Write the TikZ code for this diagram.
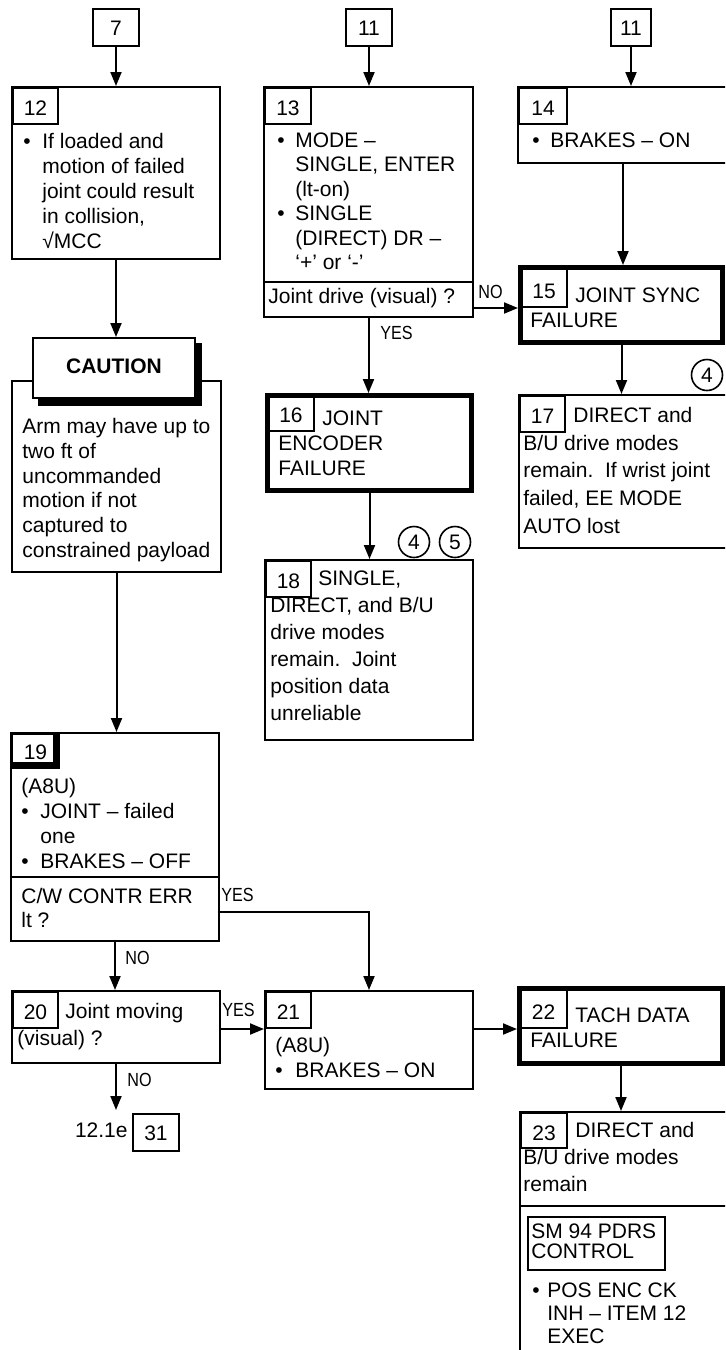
\documentclass[tikz,border=0pt]{standalone}
\usepackage{fontspec}
\setmainfont{Liberation Sans}
\newfontfamily\condf[FakeStretch=0.85]{Liberation Sans}
\usetikzlibrary{arrows.meta,fit,calc}
\newcommand\fst{\rule{0pt}{8pt}}
\newcommand\bul[1]{\makebox[#1][l]{\textbullet}}
\newcommand\ind[1]{\hspace*{#1}}
\begin{document}
\begin{tikzpicture}[x=0.5pt,y=-0.5pt,
  font=\fontsize{10.5}{12.5}\selectfont,
  box/.style={draw, line width=1pt, inner sep=0pt},
  thickbox/.style={draw, line width=2.5pt, inner sep=0pt},
  numbox/.style={draw, line width=1pt, inner sep=0pt, anchor=north west, minimum width=22.5pt, minimum height=18pt, text height=9.5pt, text depth=0pt},
  topbox/.style={draw, line width=1pt, inner sep=0pt, anchor=north west, minimum width=23pt, minimum height=18.5pt, text height=8pt, text depth=0pt},
  tx/.style={anchor=north west, inner sep=0pt, align=left},
  lab/.style={anchor=west, inner sep=0pt, font=\condf\fontsize{9.5}{11}\selectfont},
  circ/.style={draw, circle, line width=0.8pt, minimum size=15.5pt, inner sep=0pt},
  arr/.style={draw, line width=1pt, -{Triangle[length=7pt,width=5.5pt]}}]
\useasboundingbox (0,0) rectangle (725,1350);
\clip (0,0) rectangle (725,1350);

% ---------- left column ----------
\node[topbox] (b7) at (92,8) {7};
\node[box, fit={(12,87)(220,259)}] (b12) {};
\node[numbox] (n12) at (12,87) {12};
\node[tx] (t12) at (23,132) {\fst\bul{9.5pt}If loaded and\\\ind{9.5pt}motion of failed\\\ind{9.5pt}joint could result\\\ind{9.5pt}in collision,\\\ind{9.5pt}√MCC};

\node[box, fit={(12,381)(221,572)}] (caub) {};
\fill (38,343) rectangle (202,406);
\node[box, fill=white, fit={(33,338)(195,398)}] (cauh) {};
\node[anchor=base, inner sep=0pt, font=\bfseries\fontsize{10.5}{12.5}\selectfont] (caut) at (114,373) {CAUTION};
\node[tx, font=\fontsize{10.5}{12.4}\selectfont] (caux) at (22,417) {\fst Arm may have up to\\two ft of\\uncommanded\\motion if not\\captured to\\constrained payload};

\node[box, fit={(11,733)(219,941)}] (b19) {};
\node[numbox, minimum width=23.5pt, minimum height=17pt, text height=8.5pt] (n19) at (11,733) {19};
\draw[line width=2.5pt] (55.5,733) -- (55.5,764.5) -- (11,764.5);
\node[tx] (t19) at (21,777) {\fst(A8U)\\\bul{9.5pt}JOINT – failed\\\ind{9.5pt}one\\\bul{9.5pt}BRAKES – OFF};
\draw[line width=1pt] (11,877) -- (219,877);
\node[tx, font=\fontsize{10.5}{12}\selectfont] (q19) at (21,887) {\fst C/W CONTR ERR\\lt ?};

\node[box, fit={(12,991)(220,1063)}] (b20) {};
\node[numbox] (n20) at (12,991) {20};
\node[tx, font=\fontsize{10.5}{13.5}\selectfont] (t20) at (17,1002) {\fst\ind{24pt}Joint moving\\(visual) ?};

\node[anchor=base east, inner sep=0pt] (l121) at (128,1137) {12.1e};
\node[topbox] (b31) at (132,1113) {31};
\coordinate (e20) at (116,1110);

% ---------- middle column ----------
\node[topbox] (b11a) at (345,8) {11};
\node[box, fit={(264,87)(473,317)}] (b13) {};
\node[numbox, minimum width=23pt] (n13) at (264,87) {13};
\node[tx, font=\fontsize{10.5}{12.2}\selectfont] (t13) at (277,131) {\fst\bul{9pt}MODE –\\\ind{9pt}SINGLE, ENTER\\\ind{9pt}(lt-on)\\\bul{9pt}SINGLE\\\ind{9pt}(DIRECT) DR –\\\ind{9pt}‘+’ or ‘-’};
\draw[line width=1pt] (264,282) -- (473,282);
\node[tx] (q13) at (268,287) {\fst Joint drive (visual) ?};

\node[thickbox, fit={(267.5,395.5)(471.5,490.5)}] (b16) {};
\node[numbox, minimum width=23pt, minimum height=17.5pt, text height=8.5pt] (n16) at (267,395) {16};
\node[tx] (t16) at (278,409) {\fst\ind{22pt}JOINT\\ENCODER\\FAILURE};

\node[circ] (c4b) at (414,542) {4};
\node[circ] (c5) at (455,542) {5};
\node[box, fit={(265,560)(473,740)}] (b18) {};
\node[numbox] (n18) at (265,560) {18};
\node[tx, font=\fontsize{10.5}{13.5}\selectfont] (t18) at (270,569) {\fst\ind{24pt}SINGLE,\\DIRECT, and B/U\\drive modes\\remain.\ \ Joint\\position data\\unreliable};

\node[box, fit={(265,991)(473,1089)}] (b21) {};
\node[numbox] (n21) at (265,991) {21};
\node[tx] (t21) at (275,1036) {\fst(A8U)\\\bul{10pt}BRAKES – ON};
\coordinate (y19) at (0,912);

% ---------- right column ----------
\node[topbox, minimum width=20pt] (b11b) at (610,8) {11};
\node[box, fit={(518,87)(728,163)}] (b14) {};
\node[numbox, minimum width=24pt] (n14) at (518,87) {14};
\node[tx] (t14) at (532,131) {\fst\bul{9pt}BRAKES – ON};

\node[thickbox, fit={(520.5,267.5)(722.5,342.5)}] (b15) {};
\node[numbox, minimum width=23pt, minimum height=19.5pt, text height=10.5pt] (n15) at (520,267) {15};
\node[tx] (t15) at (530,286) {\fst\ind{22.5pt}JOINT SYNC\\FAILURE};

\node[circ] (c4a) at (707,375) {4};
\node[box, fit={(519,395)(728,548)}] (b17) {};
\node[numbox] (n17) at (519,395) {17};
\node[tx, font=\fontsize{10.5}{13.85}\selectfont] (t17) at (523,406) {\fst\ind{25pt}DIRECT and\\B/U drive modes\\remain.\ \ If wrist joint\\failed, EE MODE\\AUTO lost};

\node[thickbox, fit={(519.5,988.5)(722.5,1063.5)}] (b22) {};
\node[numbox, minimum width=23.5pt, minimum height=19.5pt, text height=10.5pt] (n22) at (519,988) {22};
\node[tx] (t22) at (530,1006) {\fst\ind{22.5pt}TACH DATA\\FAILURE};

\node[box, fit={(520,1112)(728,1400)}] (b23) {};
\node[numbox, minimum width=23pt, minimum height=17.5pt] (n23) at (520,1112) {23};
\node[tx, font=\fontsize{10.5}{13.5}\selectfont] (t23) at (523,1121) {\fst\ind{26pt}DIRECT and\\B/U drive modes\\remain};
\draw[line width=1pt] (520,1206) -- (728,1206);
\node[box, fit={(528,1217)(665,1270)}] (sm) {};
\node[tx, font=\fontsize{10.5}{10}\selectfont] (smt) at (531,1222) {\fst SM 94 PDRS\\CONTROL};
\node[tx, font=\fontsize{10.5}{11.5}\selectfont] (t23b) at (532,1281) {\fst\bul{7.5pt}POS ENC CK\\\ind{7.5pt}INH – ITEM 12\\\ind{7.5pt}EXEC};

% ---------- connectors ----------
\draw[arr] (b7.south) -- (b7.south |- b12.north);
\draw[arr] (b12.south) -- (b12.south |- cauh.north);
\draw[arr] (caub.south) -- (caub.south |- b19.north);
\draw[arr] (b19.south) -- (b19.south |- b20.north);
\node[lab] (no19) at (125,958) {NO};
\draw[arr] (b19.east |- y19) -| (b21.north);
\node[lab] (yes19) at (221,895) {YES};
\draw[arr] (n20.south -| b20.east) -- (n20.south -| b21.west);
\node[lab] (yes20) at (222,1010) {YES};
\draw[arr] (b20.south) -- (b20.south |- e20);
\node[lab] (no20) at (127,1080) {NO};

\draw[arr] (b11a.south) -- (b11a.south |- b13.north);
\draw[arr] (b13.south) -- (b13.south |- b16.north);
\node[lab] (yes13) at (380,333) {YES};
\draw[arr] (n15.south -| b13.east) -- (n15.south -| b15.west);
\node[lab] (no13) at (478,292) {NO};
\draw[arr] (b16.south) -- (b16.south |- b18.north);

\draw[arr] (b11b.south) -- (b11b.south |- b14.north);
\draw[arr] (b14.south) -- (b14.south |- b15.north);
\draw[arr] (b15.south) -- (b15.south |- b17.north);
\draw[arr] (n21.south -| b21.east) -- (n22.south -| b22.west);
\draw[arr] (b22.south) -- (b22.south |- b23.north);
\end{tikzpicture}
\end{document}
